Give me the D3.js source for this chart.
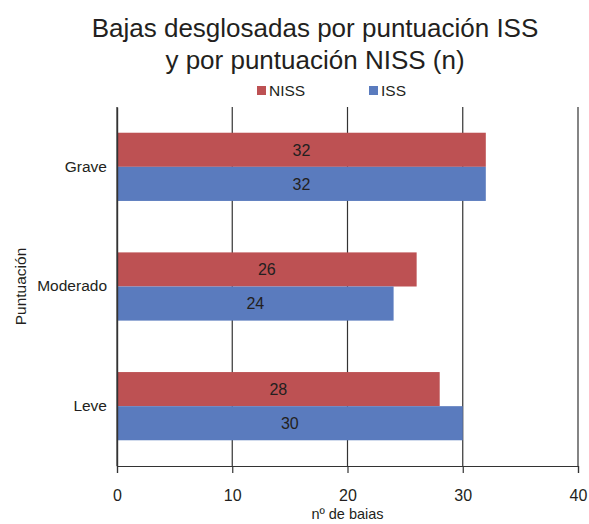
<!DOCTYPE html>
<html>
<head>
<meta charset="utf-8">
<script src="https://cdn.jsdelivr.net/npm/d3@7"></script>
<style>
  html, body { margin: 0; padding: 0; background: #fff; }
  svg text { font-family: "Liberation Sans", Arial, Helvetica, sans-serif; fill: #231f20; }
</style>
</head>
<body>
<svg id="chart" width="589" height="524"></svg>
<script>
// Categories (top to bottom) and series values
const categories = ["Grave", "Moderado", "Leve"];
const seriesNames = ["NISS", "ISS"];
const nissValues = [32, 26, 28];
const issValues = [32, 24, 30];
const xTicks = [0, 10, 20, 30, 40];
const colors = ["#bd5153", "#5a7bbe"];
const titleLines = ["Bajas desglosadas por puntuación ISS", "y por puntuación NISS (n)"];

const svg = d3.select("#chart");
const margin = { left: 117, right: 11, top: 107, bottom: 58 };
const W = 589, H = 524;
const plotW = W - margin.left - margin.right;
const plotH = H - margin.top - margin.bottom;
const FONT = "Liberation Sans, Arial, Helvetica, sans-serif";

const x = d3.scaleLinear().domain([0, 40]).range([0, plotW]);
const y = d3.scaleBand().domain(categories).range([0, plotH]).paddingInner(0.43).paddingOuter(0.215);
const ySub = d3.scaleBand().domain(seriesNames).range([0, y.bandwidth()]);

// Title
svg.append("g").selectAll("text").data(titleLines).join("text")
  .attr("x", 315).attr("y", (d, i) => 37 + i * 32)
  .attr("text-anchor", "middle").attr("font-size", 26)
  .text(d => d);

// Legend
const legendX = [257, 369];
const legend = svg.append("g").selectAll("g").data(seriesNames).join("g")
  .attr("transform", (d, i) => `translate(${legendX[i]},86)`);
legend.append("rect").attr("width", 9).attr("height", 9).attr("fill", (d, i) => colors[i]);
legend.append("text").attr("x", 12).attr("y", 10).attr("font-size", 15.5).text(d => d);

const g = svg.append("g").attr("transform", `translate(${margin.left},${margin.top})`);

// Vertical gridlines
g.append("g").selectAll("line").data(xTicks).join("line")
  .attr("x1", d => x(d)).attr("x2", d => x(d))
  .attr("y1", 0).attr("y2", plotH)
  .attr("stroke", "#333").attr("stroke-width", 1.2);

// Bars
const rows = categories.map((c, i) => ({ cat: c, vals: [nissValues[i], issValues[i]] }));
const grp = g.append("g").selectAll("g").data(rows).join("g")
  .attr("transform", d => `translate(0,${y(d.cat)})`);
grp.selectAll("rect").data(d => d.vals.map((v, i) => ({ v, s: seriesNames[i], i }))).join("rect")
  .attr("x", 0).attr("y", d => ySub(d.s))
  .attr("width", d => x(d.v)).attr("height", ySub.bandwidth())
  .attr("fill", d => colors[d.i]);
grp.selectAll("text").data(d => d.vals.map((v, i) => ({ v, s: seriesNames[i], i }))).join("text")
  .attr("x", d => x(d.v) / 2).attr("y", d => ySub(d.s) + ySub.bandwidth() / 2)
  .attr("dy", "0.36em").attr("text-anchor", "middle").attr("font-size", 16)
  .text(d => d.v);

// Bottom axis
const xAxis = g.append("g").attr("transform", `translate(0,${plotH})`)
  .call(d3.axisBottom(x).tickValues(xTicks).tickSize(7).tickPadding(17));
xAxis.select(".domain").attr("stroke", "#333").attr("stroke-width", 1.2);
xAxis.selectAll(".tick line").attr("stroke", "#333").attr("stroke-width", 1.2);
xAxis.selectAll(".tick text").attr("font-size", 16).attr("font-family", FONT).attr("fill", "#231f20");

// Left axis
const yAxis = g.append("g").call(d3.axisLeft(y).tickSize(0).tickPadding(10));
yAxis.select(".domain").attr("stroke", "#333").attr("stroke-width", 1.4);
yAxis.selectAll(".tick text").attr("font-size", 15.5).attr("font-family", FONT).attr("fill", "#231f20");

// Axis titles
svg.append("text").attr("x", margin.left + x(20)).attr("y", 519)
  .attr("text-anchor", "middle").attr("font-size", 14.5).text("nº de baias");
svg.append("text").attr("transform", `translate(26,${margin.top + plotH / 2 + 0}) rotate(-90)`)
  .attr("text-anchor", "middle").attr("font-size", 15.5).text("Puntuación");
</script>
</body>
</html>
